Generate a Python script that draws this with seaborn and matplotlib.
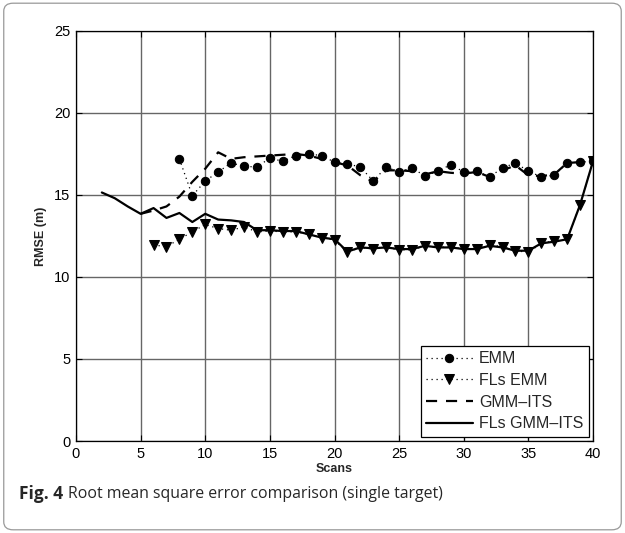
import numpy as np
import pandas as pd
import matplotlib
matplotlib.use("Agg")
import matplotlib.pyplot as plt
from matplotlib.patches import FancyBboxPatch
from matplotlib.transforms import offset_copy
import seaborn as sns

# ---- data ----
emm_x = list(range(8, 41))
emm_y = [17.2, 14.95, 15.85, 16.4, 16.95, 16.75, 16.7, 17.25, 17.05, 17.4, 17.5, 17.4,
         17.0, 16.9, 16.7, 15.85, 16.7, 16.4, 16.65, 16.15, 16.45, 16.85, 16.4, 16.45,
         16.1, 16.65, 16.95, 16.45, 16.1, 16.2, 16.95, 17.0, 17.05]

fls_emm_x = list(range(6, 41))
fls_emm_y = [11.95, 11.85, 12.3, 12.75, 13.2, 12.95, 12.85, 13.05, 12.75, 12.8, 12.75,
             12.75, 12.6, 12.4, 12.25, 11.5, 11.8, 11.7, 11.8, 11.65, 11.65, 11.9, 11.8,
             11.85, 11.7, 11.7, 11.95, 11.85, 11.6, 11.5, 12.05, 12.2, 12.3, 14.4, 17.05]

gmm_x = list(range(5, 41))
gmm_y = [13.85, 14.05, 14.3, 14.9, 15.8, 16.6, 17.6, 17.2, 17.3, 17.35, 17.4, 17.45,
         17.5, 17.4, 17.2, 17.0, 16.8, 16.2, 15.8, 16.5, 16.5, 16.45, 16.25, 16.45,
         16.35, 16.3, 16.4, 16.1, 16.5, 16.8, 16.2, 16.15, 16.25, 16.95, 17.0, 17.05]

fls_gmm_x = list(range(2, 41))
fls_gmm_y = [15.15, 14.8, 14.3, 13.85, 14.2, 13.6, 13.9, 13.35, 13.85, 13.5, 13.45,
             13.35, 12.85, 12.85, 12.8, 12.8, 12.6, 12.4, 12.3, 11.55, 11.8, 11.75,
             11.8, 11.7, 11.7, 11.9, 11.8, 11.8, 11.7, 11.7, 11.9, 11.8, 11.6, 11.6,
             12.05, 12.15, 12.3, 14.4, 17.05]

labels = ["EMM", "FLs EMM", "GMM\u2013ITS", "FLs GMM\u2013ITS"]
x_ticks = [0, 5, 10, 15, 20, 25, 30, 35, 40]
y_ticks = [0, 5, 10, 15, 20, 25]

sns.set_style("white")
plt.rcParams['font.family'] = ['Liberation Sans', 'DejaVu Sans']

fig = plt.figure(figsize=(6.25, 5.33), dpi=100)
ax = fig.add_axes([0.1216, 0.1726, 0.8272, 0.7694])

sns.lineplot(x=emm_x, y=emm_y, ax=ax, color="black", linestyle=(0, (1, 3)), lw=0.9,
             marker="o", markersize=6, markeredgecolor="black", label=labels[0])
sns.lineplot(x=fls_emm_x, y=fls_emm_y, ax=ax, color="black", linestyle=(0, (1, 3)), lw=0.9,
             marker="v", markersize=6.5, markeredgecolor="black", label=labels[1])
sns.lineplot(x=gmm_x, y=gmm_y, ax=ax, color="black", linestyle=(0, (5, 4)), lw=1.6,
             label=labels[2])
sns.lineplot(x=fls_gmm_x, y=fls_gmm_y, ax=ax, color="black", linestyle="-", lw=1.6,
             label=labels[3])

ax.set_xlim(0, 40)
ax.set_ylim(0, 25)
ax.set_xticks(x_ticks)
ax.set_yticks(y_ticks)
ax.grid(True, color="#666666", lw=1.0)
ax.set_axisbelow(True)
for s in ax.spines.values():
    s.set_color("black")
    s.set_linewidth(0.9)
ax.tick_params(direction="in", length=4, width=0.8, labelsize=10.5, colors="black",
               bottom=True, left=True, top=True, right=True, pad=4)
ax.set_xlabel("Scans", fontsize=9, fontweight="bold", labelpad=2)
ax.set_ylabel("RMSE (m)", fontsize=9, fontweight="bold", labelpad=5)

leg = ax.legend(loc="lower right", frameon=True, fancybox=False, fontsize=11.5,
                handlelength=2.9, borderaxespad=0.25, labelspacing=0.42,
                handletextpad=0.4, borderpad=0.35)
leg.get_frame().set_edgecolor("black")
leg.get_frame().set_linewidth(0.9)
leg.get_frame().set_alpha(1)

# caption
fam = ["Open Sans", "DejaVu Sans"]
t1 = fig.text(0.030, 0.073, "Fig. 4", fontsize=12.5, fontweight="bold",
              family=fam, va="center", ha="left")
fig.canvas.draw()
bb = t1.get_window_extent()
x_next = (bb.x1 + 5) / fig.bbox.width
fig.text(x_next, 0.073, "Root mean square error comparison (single target)", fontsize=11.4,
         family=fam, va="center", ha="left")

border = FancyBboxPatch((0.006, 0.006), 0.988, 0.988, transform=fig.transFigure,
                        boxstyle="round,pad=0,rounding_size=0.015", fill=False,
                        edgecolor="#999999", lw=0.9)
fig.patches.append(border)

fig.savefig("out.png", dpi=100)
